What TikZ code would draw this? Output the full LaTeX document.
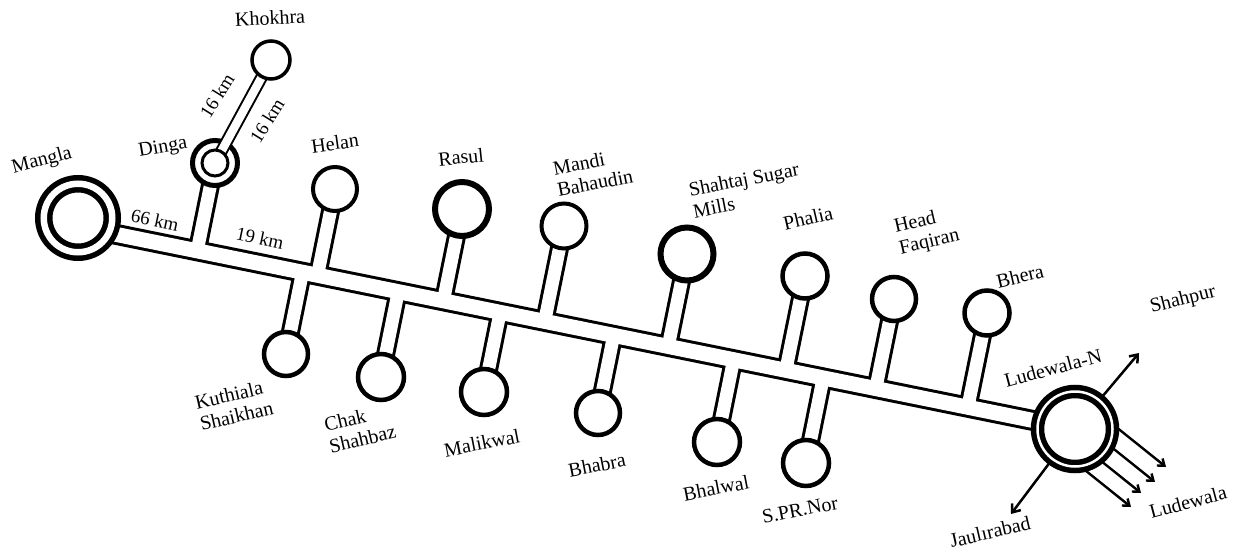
\documentclass[tikz,border=0pt]{standalone}
\usepackage{fontspec}
\setmainfont{Liberation Serif}
\usetikzlibrary{calc,arrows.meta}
\pgfdeclarelayer{chb}
\pgfdeclarelayer{chw}
\pgfdeclarelayer{dout}
\pgfdeclarelayer{kb}
\pgfdeclarelayer{kw}
\pgfsetlayers{chb,chw,dout,kb,kw,main}
\tikzset{
  stn/.style={circle, draw=black, fill=white, inner sep=0pt, line width=4.5pt, minimum size=45pt},
  bigstn/.style={stn, line width=6pt, minimum size=54pt},
  lbl/.style={font=\fontsize{20}{22}\selectfont, align=left, inner sep=0pt, rotate=13},
  kml/.style={font=\fontsize{19}{21}\selectfont, inner sep=0pt},
  mainb/.style={line width=21pt, draw=black},
  mainw/.style={line width=15pt, draw=white},
  stubb/.style={line width=19pt, draw=black},
  stubw/.style={line width=13pt, draw=white},
  kb/.style={line width=12.5pt, draw=black},
  kw/.style={line width=8.5pt, draw=white},
  arr/.style={line width=2.5pt, -{Straight Barb[length=7pt,width=11pt]}},
  arrs/.style={line width=2.4pt, -{Straight Barb[length=6pt,width=9pt]}}
}
\begin{document}
\begin{tikzpicture}[x=1pt,y=-1pt]
\useasboundingbox (0,0) rectangle (1238,553);
% stations
\node[stn, line width=5.5pt, double=white, double distance=6.5pt, minimum size=68.5pt] (mangla) at (78,218) {};
\node[stn, line width=5.5pt, double=white, double distance=2.5pt, minimum size=75pt] (ludn) at (1075,429) {};
\node[stn, line width=3.5pt, minimum size=38pt] (khokhra) at (271,60) {};
\node[stn, line width=3pt, minimum size=26pt] (dingain) at (215,163) {};
\node[stn, line width=4pt, minimum size=44pt] (helan) at (335,189) {};
\node[bigstn] (rasul) at (462,209) {};
\node[stn, line width=4pt] (mandi) at (564,226) {};
\node[bigstn, minimum size=53pt] (shahtaj) at (687,254) {};
\node[stn] (phalia) at (805,276) {};
\node[stn, minimum size=44pt] (headf) at (894,299) {};
\node[stn] (bhera) at (987,313) {};
\node[stn, minimum size=44pt] (kuth) at (286,354) {};
\node[stn, minimum size=46pt] (chak) at (381,377) {};
\node[stn, minimum size=46pt] (malik) at (484,392) {};
\node[stn, minimum size=44pt] (bhabra) at (598,413) {};
\node[stn, minimum size=46pt] (bhalwal) at (717,442) {};
\node[stn, minimum size=46pt] (spr) at (806,463) {};
\begin{pgfonlayer}{dout}
\node[stn, line width=5pt, minimum size=45pt] (dinga) at (215,163) {};
\end{pgfonlayer}
% channel geometry
\coordinate (mstart) at (90.5,229.2);
\foreach \s in {dinga,helan,rasul,mandi,shahtaj,phalia,headf,bhera,kuth,chak,malik,bhabra,bhalwal,spr}{
  \coordinate (f\s) at ($(mstart)!(\s.center)!(ludn.center)$);
}
\begin{pgfonlayer}{chb}
\draw[mainb] (mstart) -- (ludn.center);
\foreach \s in {dinga,helan,rasul,mandi,shahtaj,phalia,headf,bhera,kuth,chak,malik,bhabra,bhalwal,spr}{
  \draw[stubb] (\s.center) -- (f\s);
}
% Ludewala arrows
\coordinate (t1) at (1166,467);
\coordinate (t2) at (1155,482);
\coordinate (t3) at (1141,493);
\coordinate (t4) at (1131,507);
\foreach \t in {t1,t2,t3,t4}{
  \coordinate (s\t) at ($(\t)+(-78,-62.5)$);
  \draw[arrs] (s\t) -- (\t);
}
\end{pgfonlayer}
\begin{pgfonlayer}{chw}
\draw[mainw] (mstart) -- (ludn.center);
\foreach \s in {dinga,helan,rasul,mandi,shahtaj,phalia,headf,bhera,kuth,chak,malik,bhabra,bhalwal,spr}{
  \draw[stubw] (\s.center) -- (f\s);
}
\end{pgfonlayer}
\begin{pgfonlayer}{kb}
\draw[kb] (khokhra.center) -- (dinga.center);
\end{pgfonlayer}
\begin{pgfonlayer}{kw}
\draw[kw] (khokhra.center) -- (dinga.center);
\end{pgfonlayer}
% single arrows
\coordinate (tshp) at (1139,353);
\coordinate (tjau) at (1011,514);
\draw[arr] (ludn) -- (tshp);
\draw[arr] (ludn) -- (tjau);
% labels
\node[lbl, rotate=-10] (lkhok) at (270,18) {Khokhra};
\node[lbl, rotate=-3] (ldinga) at (163,148) {Dinga};
\node[lbl, rotate=2] (lmangla) at (42,161) {Mangla};
\node[lbl, rotate=-5] (lhelan) at (335,143) {Helan};
\node[lbl, rotate=-7] (lrasul) at (461,157) {Rasul};
\node[lbl, rotate=-2] (lmandi) at (593,172) {Mandi\\Bahaudin};
\node[lbl, rotate=-2] (lshah) at (746,190) {Shahtaj Sugar\\Mills};
\node[lbl] (lphal) at (808,218) {Phalia};
\node[lbl] (lhead) at (927,232) {Head\\Faqiran};
\node[lbl] (lbhera) at (1020,276) {Bhera};
\node[lbl, rotate=2] (lludn) at (1053,368) {Ludewala-N};
\node[lbl, rotate=1] (lshp) at (1183,300) {Shahpur};
\node[lbl, rotate=2] (lludw) at (1188,502) {Ludewala};
\node[lbl] (ljau) at (990,532) {Jaulırabad};
\node[lbl] (lkuth) at (234,405) {Kuthiala\\Shaikhan};
\node[lbl] (lchak) at (360,428) {Chak\\Shahbaz};
\node[lbl, rotate=-2] (lmalik) at (482,443) {Malikwal};
\node[lbl, rotate=-2] (lbhabra) at (597,465) {Bhabra};
\node[lbl, rotate=-2] (lbhalwal) at (716,488) {Bhalwal};
\node[lbl, rotate=-2] (lspr) at (800,510) {S.PR.Nor};
\node[kml, rotate=-12] (k66) at (155,220) {66 km};
\node[kml, rotate=-12] (k19) at (260,238) {19 km};
\node[kml, rotate=58] (k16a) at (217,96) {16 km};
\node[kml, rotate=58] (k16b) at (267,121) {16 km};
\end{tikzpicture}
\end{document}
